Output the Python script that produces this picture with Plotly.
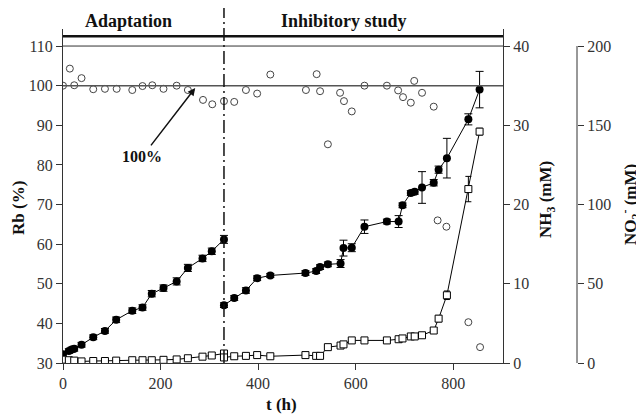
import plotly.graph_objects as go

# ---------------- data ----------------
# Rb (%) - open circles
t_rb = [0, 14, 23, 38, 62, 86, 110, 142, 163, 183, 206, 233, 256, 287, 306, 330, 351,
        375, 398, 425, 498, 520, 527, 543, 568, 576, 592, 618, 664, 687, 697, 713,
        720, 736, 760, 768, 786, 831, 855]
rb = [100.0, 104.3, 100.1, 101.9, 99.1, 99.2, 99.2, 98.9, 99.9, 100.1, 99.2, 100.0, 98.9,
      96.4, 95.3, 96.1, 95.9, 98.9, 98.0, 102.8, 98.9, 102.9, 98.6, 85.2, 98.2, 96.1,
      93.5, 100.0, 100.0, 98.8, 97.1, 95.7, 101.2, 98.2, 94.7, 66.0, 64.4, 40.3, 34.0]

# NH3 (mM) - filled circles, adaptation phase
t_nh3_a = [0, 12, 18, 23, 38, 62, 86, 109, 142, 163, 182, 206, 233, 256, 286, 305, 330]
nh3_a = [1.1, 1.5, 1.7, 1.8, 2.3, 3.25, 4.05, 5.45, 6.6, 7.0, 8.75, 9.45, 10.3, 12.0,
         13.2, 14.1, 15.6]
nh3_a_err = [0.3, 0.3, 0.3, 0.3, 0.3, 0.3, 0.3, 0.35, 0.35, 0.35, 0.4, 0.4, 0.45, 0.45,
             0.4, 0.4, 0.5]
# NH3 (mM) - inhibitory study
t_nh3_b = [330, 351, 375, 398, 425, 497, 519, 527, 543, 569, 575, 592, 618, 664, 688,
           696, 713, 721, 736, 760, 770, 787, 831, 854]
nh3_b = [7.3, 8.2, 9.15, 10.7, 11.05, 11.35, 11.6, 12.1, 12.45, 12.55, 14.5, 14.55, 17.2,
         17.85, 17.85, 19.9, 21.45, 21.6, 22.15, 22.75, 24.4, 25.85, 30.75, 34.5]
nh3_b_err = [0.3, 0.3, 0.35, 0.3, 0.25, 0.3, 0.3, 0.3, 0.3, 0.5, 1.0, 0.5, 0.85, 0.3,
             0.75, 0.3, 0.3, 0.3, 2.0, 0.4, 0.45, 2.5, 0.7, 2.3]

# NO2- (mM) - open squares
t_no2_a = [0, 12, 23, 38, 62, 86, 109, 142, 163, 182, 206, 233, 256, 286, 305, 330]
no2_a = [2.1, 1.75, 1.5, 1.0, 1.25, 1.25, 1.5, 1.75, 1.75, 1.75, 2.0, 2.25, 3.0, 4.0,
         4.75, 6.0]
t_no2_b = [330, 351, 375, 398, 425, 497, 519, 527, 543, 569, 575, 592, 618, 664, 688,
           696, 713, 721, 736, 760, 770, 787, 831, 854]
no2_b = [3.5, 4.25, 4.5, 5.0, 4.25, 5.0, 4.5, 4.5, 10.0, 11.0, 11.75, 14.25, 14.25, 14.25,
         15.0, 15.5, 16.75, 16.75, 17.5, 20.5, 28.0, 42.75, 109.75, 146.0]
no2_b_err = [0.5] * 19 + [1.0, 2.0, 2.7, 8.0, 2.1]

x_ticks = [0, 200, 400, 600, 800]
rb_ticks = [30, 40, 50, 60, 70, 80, 90, 100, 110]
nh3_ticks = [0, 10, 20, 30, 40]
no2_ticks = [0, 50, 100, 150, 200]

t_switch = 330

# ---------------- figure ----------------
FONT = "Liberation Serif"
tickfont = dict(family=FONT, size=16, color="#333")

fig = go.Figure()

# squares (NO2-)
fig.add_trace(go.Scatter(
    x=t_no2_a + [None] + t_no2_b,
    y=no2_a + [None] + no2_b,
    yaxis="y3", mode="lines+markers",
    line=dict(color="black", width=1),
    marker=dict(symbol="square", size=7, color="white", line=dict(color="black", width=1)),
    error_y=dict(type="data", array=[0.4] * len(no2_a) + [0] + no2_b_err,
                 color="black", thickness=1, width=3),
    showlegend=False))

# filled circles (NH3)
fig.add_trace(go.Scatter(
    x=t_nh3_a + [None] + t_nh3_b,
    y=nh3_a + [None] + nh3_b,
    yaxis="y2", mode="lines+markers",
    line=dict(color="black", width=1),
    marker=dict(symbol="circle", size=8, color="black"),
    error_y=dict(type="data", array=nh3_a_err + [0] + nh3_b_err,
                 color="black", thickness=1, width=4),
    showlegend=False))

# open circles (Rb)
fig.add_trace(go.Scatter(
    x=t_rb, y=rb, yaxis="y", mode="markers",
    marker=dict(symbol="circle-open", size=7, color="#444", line=dict(width=1)),
    showlegend=False))

W_PLOT = 551.0
H_PLOT = 334.0
x_dom_end = 440.0 / W_PLOT
# pixel helpers (reference picture coordinates; plot area origin at x=63, bottom y=363)
px = lambda p: (p - 63) / W_PLOT
py = lambda p: (363 - p) / H_PLOT

fig.update_layout(
    width=644, height=415,
    margin=dict(l=55, r=38, t=21, b=60, pad=0),
    paper_bgcolor="white", plot_bgcolor="white",
    showlegend=False,
    xaxis=dict(domain=[0, x_dom_end], range=[0, 902], tickvals=x_ticks,
               ticks="outside", ticklen=6, tickcolor="#333", showline=True,
               linecolor="#333", linewidth=1, showgrid=False, zeroline=False,
               tickfont=tickfont),
    yaxis=dict(range=[30, 114.3], tickvals=rb_ticks, ticks="outside", ticklen=6,
               tickcolor="#333", showline=True, linecolor="#333", linewidth=1,
               showgrid=False, zeroline=False, tickfont=tickfont),
    yaxis2=dict(range=[0, 42.15], tickvals=nh3_ticks, overlaying="y", side="right",
                anchor="x", ticks="outside", ticklen=6, tickcolor="#333",
                showline=True, linecolor="#333", linewidth=1, showgrid=False,
                zeroline=False, tickfont=tickfont),
    yaxis3=dict(range=[0, 210.75], tickvals=no2_ticks, overlaying="y", side="right",
                anchor="free", position=px(577), ticks="outside",
                ticklen=6, tickcolor="#333", showline=False, showgrid=False,
                zeroline=False, tickfont=tickfont),
)

# reference lines
fig.add_shape(type="line", xref="x", yref="y", x0=0, x1=902, y0=100, y1=100,
              line=dict(color="#555", width=1.5))
fig.add_shape(type="line", xref="x", yref="y", x0=0, x1=902, y0=110, y1=110,
              line=dict(color="#333", width=1))
fig.add_shape(type="line", xref="x", yref="y", x0=0, x1=902, y0=112.5, y1=112.5,
              line=dict(color="#111", width=2.5))
fig.add_shape(type="line", xref="x", yref="paper", x0=t_switch, x1=t_switch,
              y0=0, y1=py(5),
              line=dict(color="#111", width=1.5, dash="13px,4px,2px,4px"))
# NO2 axis line
fig.add_shape(type="line", xref="paper", yref="y3", x0=px(577), x1=px(577),
              y0=0, y1=200, line=dict(color="#333", width=1))

bold = dict(family=FONT, size=18, color="#111")
fig.add_annotation(x=135, y=py(21), xref="x", yref="paper", xanchor="center",
                   yanchor="middle", text="<b>Adaptation</b>", showarrow=False, font=bold)
fig.add_annotation(x=576, y=py(21), xref="x", yref="paper", xanchor="center",
                   yanchor="middle", text="<b>Inhibitory study</b>", showarrow=False,
                   font=bold)

# 100% arrow annotation
fig.add_annotation(x=271, y=99.4, xref="x", yref="y", ax=162, ay=82.0,
                   axref="x", ayref="y", text="<b>100%</b>", showarrow=True,
                   arrowhead=2, arrowsize=1, arrowwidth=1.5, arrowcolor="#111",
                   startstandoff=2, font=dict(family=FONT, size=16, color="#111"))

# axis titles
tfont = dict(family=FONT, size=17, color="#111")
fig.add_annotation(x=px(18), y=py(208), xref="paper", yref="paper",
                   xanchor="center", yanchor="middle",
                   text="<b>Rb (%)</b>", textangle=-90, showarrow=False, font=tfont)
fig.add_annotation(x=px(547), y=py(200), xref="paper", yref="paper",
                   xanchor="center", yanchor="middle",
                   text="<b>NH<sub>3</sub> (mM)</b>", textangle=-90,
                   showarrow=False, font=tfont)
fig.add_annotation(x=px(631), y=py(205), xref="paper", yref="paper",
                   xanchor="center", yanchor="middle",
                   text="<b>NO<sub>2</sub><sup>-</sup> (mM)</b>",
                   textangle=-90, showarrow=False, font=tfont)
fig.add_annotation(x=px(281), y=py(404), xref="paper", yref="paper",
                   xanchor="center", yanchor="middle",
                   text="<b>t (h)</b>", showarrow=False, font=tfont)

fig.write_html("out.html")
